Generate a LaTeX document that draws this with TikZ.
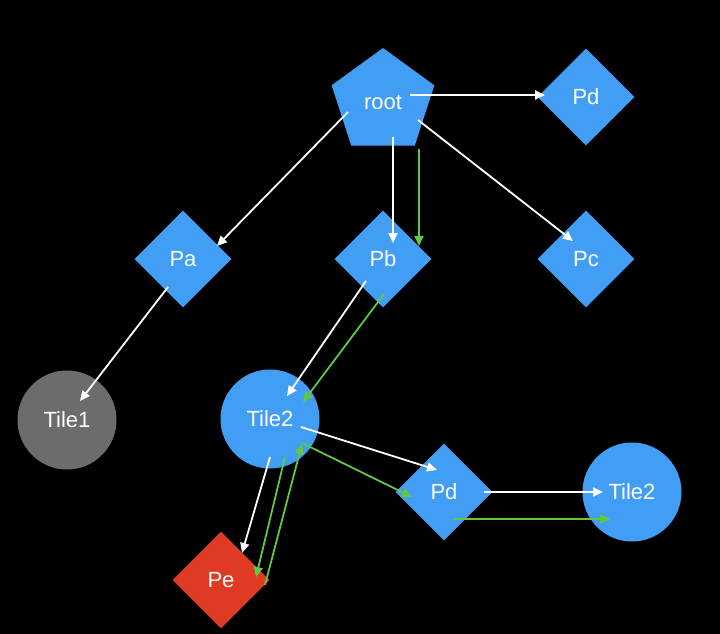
\documentclass[tikz,border=0pt]{standalone}
\usepackage{fontspec}
\setmainfont{Liberation Sans}
\usepackage{xcolor}
\usetikzlibrary{shapes.geometric}
\usetikzlibrary{arrows.meta}

\definecolor{nodeblue}{RGB}{66,158,245}
\definecolor{tilegrey}{RGB}{108,108,108}
\definecolor{pered}{RGB}{222,58,36}
\definecolor{pathgreen}{RGB}{96,200,66}

\begin{document}
\begin{tikzpicture}[x=1pt, y=-1pt,
        every node/.style={text=white, font=\fontsize{22}{26}\selectfont, inner sep=0pt},
        pentagon/.style={regular polygon, regular polygon sides=5, minimum size=108pt, fill=nodeblue},
        part/.style={diamond, aspect=1, minimum width=97pt, minimum height=97pt, fill=nodeblue},
        tile/.style={circle, minimum size=99pt, fill=nodeblue},
        link/.style={white, line width=1.8pt, -{Triangle[length=10pt, width=9pt]}},
        trace/.style={pathgreen, line width=1.8pt, -{Triangle[length=10pt, width=9pt]}}]
            \fill[black] (0,0) rectangle (720,634);
            \useasboundingbox (0,0) rectangle (720,634);

            \node (root) at (383,102) [pentagon] {root};
            \node (pd) at (586,97) [part] {Pd};
            \node (pa) at (183,259) [part] {Pa};
            \node (pb) at (383,259) [part] {Pb};
            \node (pc) at (586,259) [part] {Pc};
            \node (tile1) at (67,420) [tile, fill=tilegrey] {Tile1};
            \node (tile2) at (270,419) [tile] {Tile2};
            \node (pd2) at (444,492) [part] {Pd};
            \node (tile3) at (632,492) [tile] {Tile2};
            \node (pe) at (221,580) [part, fill=pered] {Pe};

            \draw[link] ([shift={(27,-7)}]root.center) -- ([shift={(-41,-2)}]pd.center);
            \draw[link] ([shift={(-35,10)}]root.center) -- ([shift={(34,-13)}]pa.center);
            \draw[link] ([shift={(10,35)}]root.center) -- ([shift={(10,-16)}]pb.center);
            \draw[link] ([shift={(35,18)}]root.center) -- ([shift={(-13,-18)}]pc.center);
            \draw[link] ([shift={(-15,28)}]pa.center) -- ([shift={(13,-19)}]tile1.center);
            \draw[link] ([shift={(-17,22)}]pb.center) -- ([shift={(17,-23)}]tile2.center);
            \draw[link] ([shift={(31,8)}]tile2.center) -- ([shift={(-7,-22)}]pd2.center);
            \draw[link] ([shift={(40,0)}]pd2.center) -- ([shift={(-29,0)}]tile3.center);
            \draw[link] ([shift={(0,38)}]tile2.center) -- ([shift={(21,-27)}]pe.center);

            \draw[trace] ([shift={(36,47)}]root.center) -- ([shift={(36,-13)}]pb.center);
            \draw[trace] ([shift={(1,35)}]pb.center) -- ([shift={(33,-17)}]tile2.center);
            \draw[trace] ([shift={(32,24)}]tile2.center) -- ([shift={(-32,5)}]pd2.center);
            \draw[trace] ([shift={(9,27)}]pd2.center) -- ([shift={(-22,27)}]tile3.center);
            \draw[trace] ([shift={(15,38)}]tile2.center) -- ([shift={(35,-3)}]pe.center);
            \draw[trace] ([shift={(44,5)}]pe.center) -- ([shift={(32,25)}]tile2.center);
        \end{tikzpicture}
\end{document}
